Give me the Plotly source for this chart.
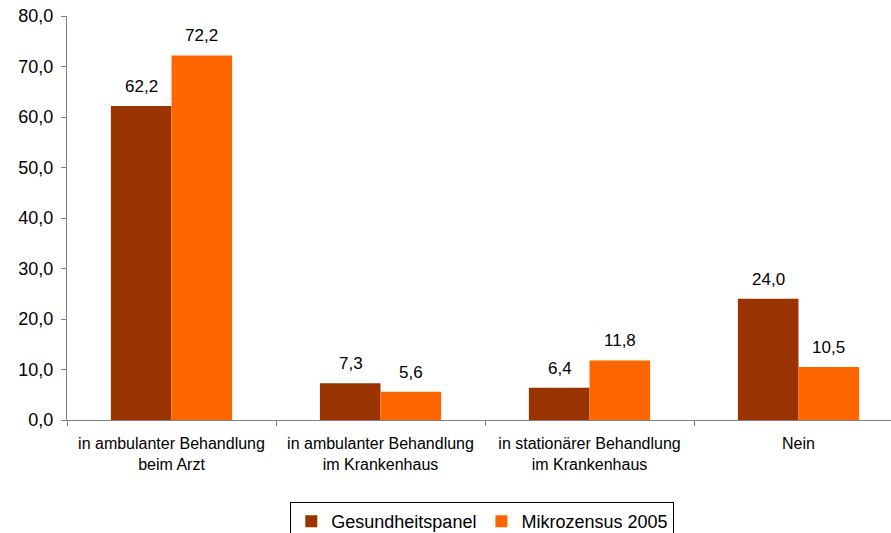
import plotly.graph_objects as go

categories = [
    "in ambulanter Behandlung<br>beim Arzt",
    "in ambulanter Behandlung<br>im Krankenhaus",
    "in stationärer Behandlung<br>im Krankenhaus",
    "Nein",
]
gesundheitspanel = [62.2, 7.3, 6.4, 24.0]
mikrozensus = [72.2, 5.6, 11.8, 10.5]
y_ticks = [0, 10, 20, 30, 40, 50, 60, 70, 80]

FONT = "Liberation Sans, Arial, sans-serif"
series = [
    ("Gesundheitspanel", gesundheitspanel, "#993300", -30),
    ("Mikrozensus 2005", mikrozensus, "#FF6600", 30),
]

fig = go.Figure()
for name, vals, color, shift in series:
    fig.add_trace(go.Bar(
        x=categories, y=vals, name=name,
        marker=dict(color=color, line=dict(width=0)),
        hoverinfo="skip",
    ))
    for c, v in zip(categories, vals):
        fig.add_annotation(
            x=c, y=v, xref="x", yref="y", text=f"{v:.1f}".replace(".", ","),
            showarrow=False, xshift=shift, yshift=8, yanchor="bottom",
            font=dict(size=17, color="#000000", family=FONT),
        )

fig.update_layout(
    width=891, height=533,
    margin=dict(l=67, r=0, t=16, b=113, autoexpand=False),
    paper_bgcolor="white", plot_bgcolor="white",
    separators=",.",
    barmode="group", bargap=0.42, bargroupgap=0,
    font=dict(family=FONT, color="#000000"),
    showlegend=True,
    legend=dict(
        orientation="h", x=0.504, xanchor="center", y=-0.203, yanchor="top",
        bordercolor="#000000", borderwidth=1,
        font=dict(size=18, family=FONT),
        itemwidth=30, tracegroupgap=0,
    ),
    xaxis=dict(
        range=[-0.5, -0.5 + 824 / 209], automargin=False,
        showline=True, linecolor="#808080", linewidth=1,
        ticks="outside", tickson="boundaries", ticklen=5, tickcolor="#808080",
        tickfont=dict(size=16, family=FONT), ticklabelstandoff=9,
        showgrid=False,
    ),
    yaxis=dict(
        range=[0, 80], tickvals=y_ticks, tickformat=".1f", automargin=False,
        showline=True, linecolor="#808080", linewidth=1,
        ticks="outside", ticklen=5, tickcolor="#808080",
        tickfont=dict(size=18, family=FONT), ticklabelstandoff=4,
        showgrid=False, zeroline=False,
    ),
)

fig.write_html(
    "out.html",
    config={"displayModeBar": False},
    post_script="document.body.style.margin='0';document.body.style.overflow='hidden';",
)
